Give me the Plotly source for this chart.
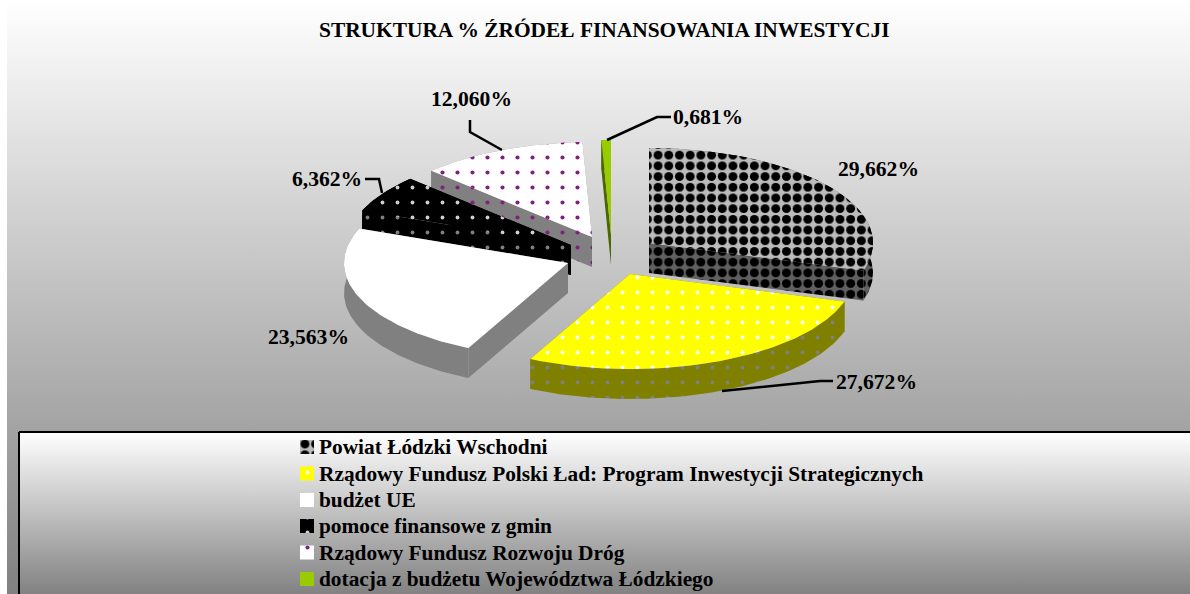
import math
import plotly.graph_objects as go

categories = ["Powiat Łódzki Wschodni",
              "Rządowy Fundusz Polski Ład: Program Inwestycji Strategicznych",
              "budżet UE", "pomoce finansowe z gmin",
              "Rządowy Fundusz Rozwoju Dróg",
              "dotacja z budżetu Województwa Łódzkiego"]
values = [29.662, 27.672, 23.563, 6.362, 12.060, 0.681]
title_text = "STRUKTURA % ŹRÓDEŁ FINANSOWANIA INWESTYCJI"

# styling / layout
FONT = "Liberation Serif"
RX, RY, DEPTH = 224, 95, 30
apex = [(649, 243), (630, 274), (568, 263), (571, 245), (592, 237), (611, 235)]
styles = [
    dict(top="#bcbcbc", wall="#606060", shape=".", fg="#000000", wfg="#000000", size=10.7, sol=0.55),
    dict(top="#ffff00", wall="#808000", shape=".", fg="#ffffff", wfg="#808080", size=15, sol=0.05),
    dict(top="#ffffff", wall="#808080", shape="", fg="#ffffff", wfg="#808080", size=8, sol=0.1),
    dict(top="#000000", wall="#000000", shape=".", fg="#cfcfcf", wfg="#808080", size=15, sol=0.05),
    dict(top="#ffffff", wall="#808080", shape=".", fg="#7f1f7f", wfg="#7f1f7f", size=15, sol=0.06),
    dict(top="#99cc00", wall="#4d6600", shape="", fg="#99cc00", wfg="#4d6600", size=8, sol=0.1),
]
label_pos = [(878, 169), (876, 382), (308, 337), (327, 179), (471, 99), (708, 117)]
leaders = [None, [(722, 391), (820, 381), (833, 381)], None,
           [(382, 193), (379, 179), (365, 179)],
           [(502, 150), (470, 132), (470, 120)],
           [(607, 140), (657, 117), (671, 117)]]
draw_order = [4, 5, 3, 2, 0, 1]
BG = (7, 0, 1190, 594)
BOX = (19, 432, 1192, 596)
KEY_X, KEY_W, KEY_H, KEY_TEXT_X = 300, 14, 14, 319
KEY_Y = [447, 473.5, 500, 526, 552.5, 579]

fig = go.Figure()


def rect(b, c0, c1, line=None):
    x0, y0, x1, y1 = b
    fig.add_trace(go.Scatter(
        x=[x0, x1, x1, x0, x0], y=[y0, y0, y1, y1, y0], mode="lines",
        line=line or dict(width=0), fill="toself", showlegend=False, hoverinfo="skip",
        fillgradient=dict(type="vertical", colorscale=[[0, c1], [1, c0]])))


rect(BG, "#ffffff", "#808080")
rect(BOX, "#ffffff", "#808080", dict(color="#000000", width=2))


def pt(c, deg, dy=0):
    t = math.radians(deg)
    return c[0] + RX * math.sin(t), c[1] - RY * math.cos(t) + dy


def poly(points, fill, shape, fg, size, sol):
    xs = [p[0] for p in points] + [points[0][0]]
    ys = [p[1] for p in points] + [points[0][1]]
    fig.add_trace(go.Scatter(
        x=xs, y=ys, mode="lines", line=dict(width=0), fill="toself",
        fillcolor=fill, showlegend=False, hoverinfo="skip",
        fillpattern=dict(shape=shape, fgcolor=fg, bgcolor=fill, size=size,
                         solidity=sol, fillmode="overlay", fgopacity=1)))


starts, acc = [], 0.0
for v in values:
    starts.append(acc)
    acc += v * 3.6

for i in draw_order:
    a0, a1 = starts[i], starts[i] + values[i] * 3.6
    c, s = apex[i], styles[i]
    n = max(2, int(a1 - a0) + 1)
    arc = [pt(c, a0 + (a1 - a0) * k / n) for k in range(n + 1)]
    low = [(x, y + DEPTH) for x, y in arc]
    wall = (s["wall"], s["shape"], s["wfg"], s["size"], s["sol"])
    for e in (arc[0], arc[-1]):
        poly([c, e, (e[0], e[1] + DEPTH), (c[0], c[1] + DEPTH)], *wall)
    poly(arc + low[::-1], *wall)
    poly([c] + arc, s["top"], s["shape"], s["fg"], s["size"], s["sol"])

annotations = [dict(x=604.5, y=30, text=f"<b>{title_text}</b>", showarrow=False,
                    xanchor="center", yanchor="middle",
                    font=dict(family=FONT, size=21.4, color="#000000"))]
for v, (lx, ly) in zip(values, label_pos):
    annotations.append(dict(x=lx, y=ly, text="<b>" + f"{v:.3f}%".replace(".", ",") + "</b>",
                            showarrow=False, xanchor="center", yanchor="middle",
                            font=dict(family=FONT, size=21.6, color="#000000")))

# hand-set key: the row spacing of the original is tighter than a native legend allows
for name, s, ky in zip(categories, styles, KEY_Y):
    poly([(KEY_X, ky - KEY_H / 2), (KEY_X + KEY_W, ky - KEY_H / 2),
          (KEY_X + KEY_W, ky + KEY_H / 2), (KEY_X, ky + KEY_H / 2)],
         s["top"], s["shape"], s["fg"], s["size"], s["sol"])
    annotations.append(dict(x=KEY_TEXT_X, y=ky, text=f"<b>{name}</b>", showarrow=False,
                            xanchor="left", yanchor="middle", xshift=-2,
                            font=dict(family=FONT, size=21.35, color="#000000")))

shapes = []
for pts in leaders:
    if pts:
        path = "M" + " L".join(f"{x},{y}" for x, y in pts)
        shapes.append(dict(type="path", path=path, line=dict(color="#000000", width=2.5)))

fig.update_layout(
    width=1190, height=594, margin=dict(l=0, r=0, t=0, b=0),
    paper_bgcolor="#ffffff", plot_bgcolor="rgba(0,0,0,0)",
    xaxis=dict(range=[0, 1190], visible=False, fixedrange=True),
    yaxis=dict(range=[594, 0], visible=False, fixedrange=True),
    annotations=annotations, shapes=shapes, showlegend=False,
)
fig.write_html("out.html", config=dict(displayModeBar=False),
               post_script="document.body.style.margin='0';")
